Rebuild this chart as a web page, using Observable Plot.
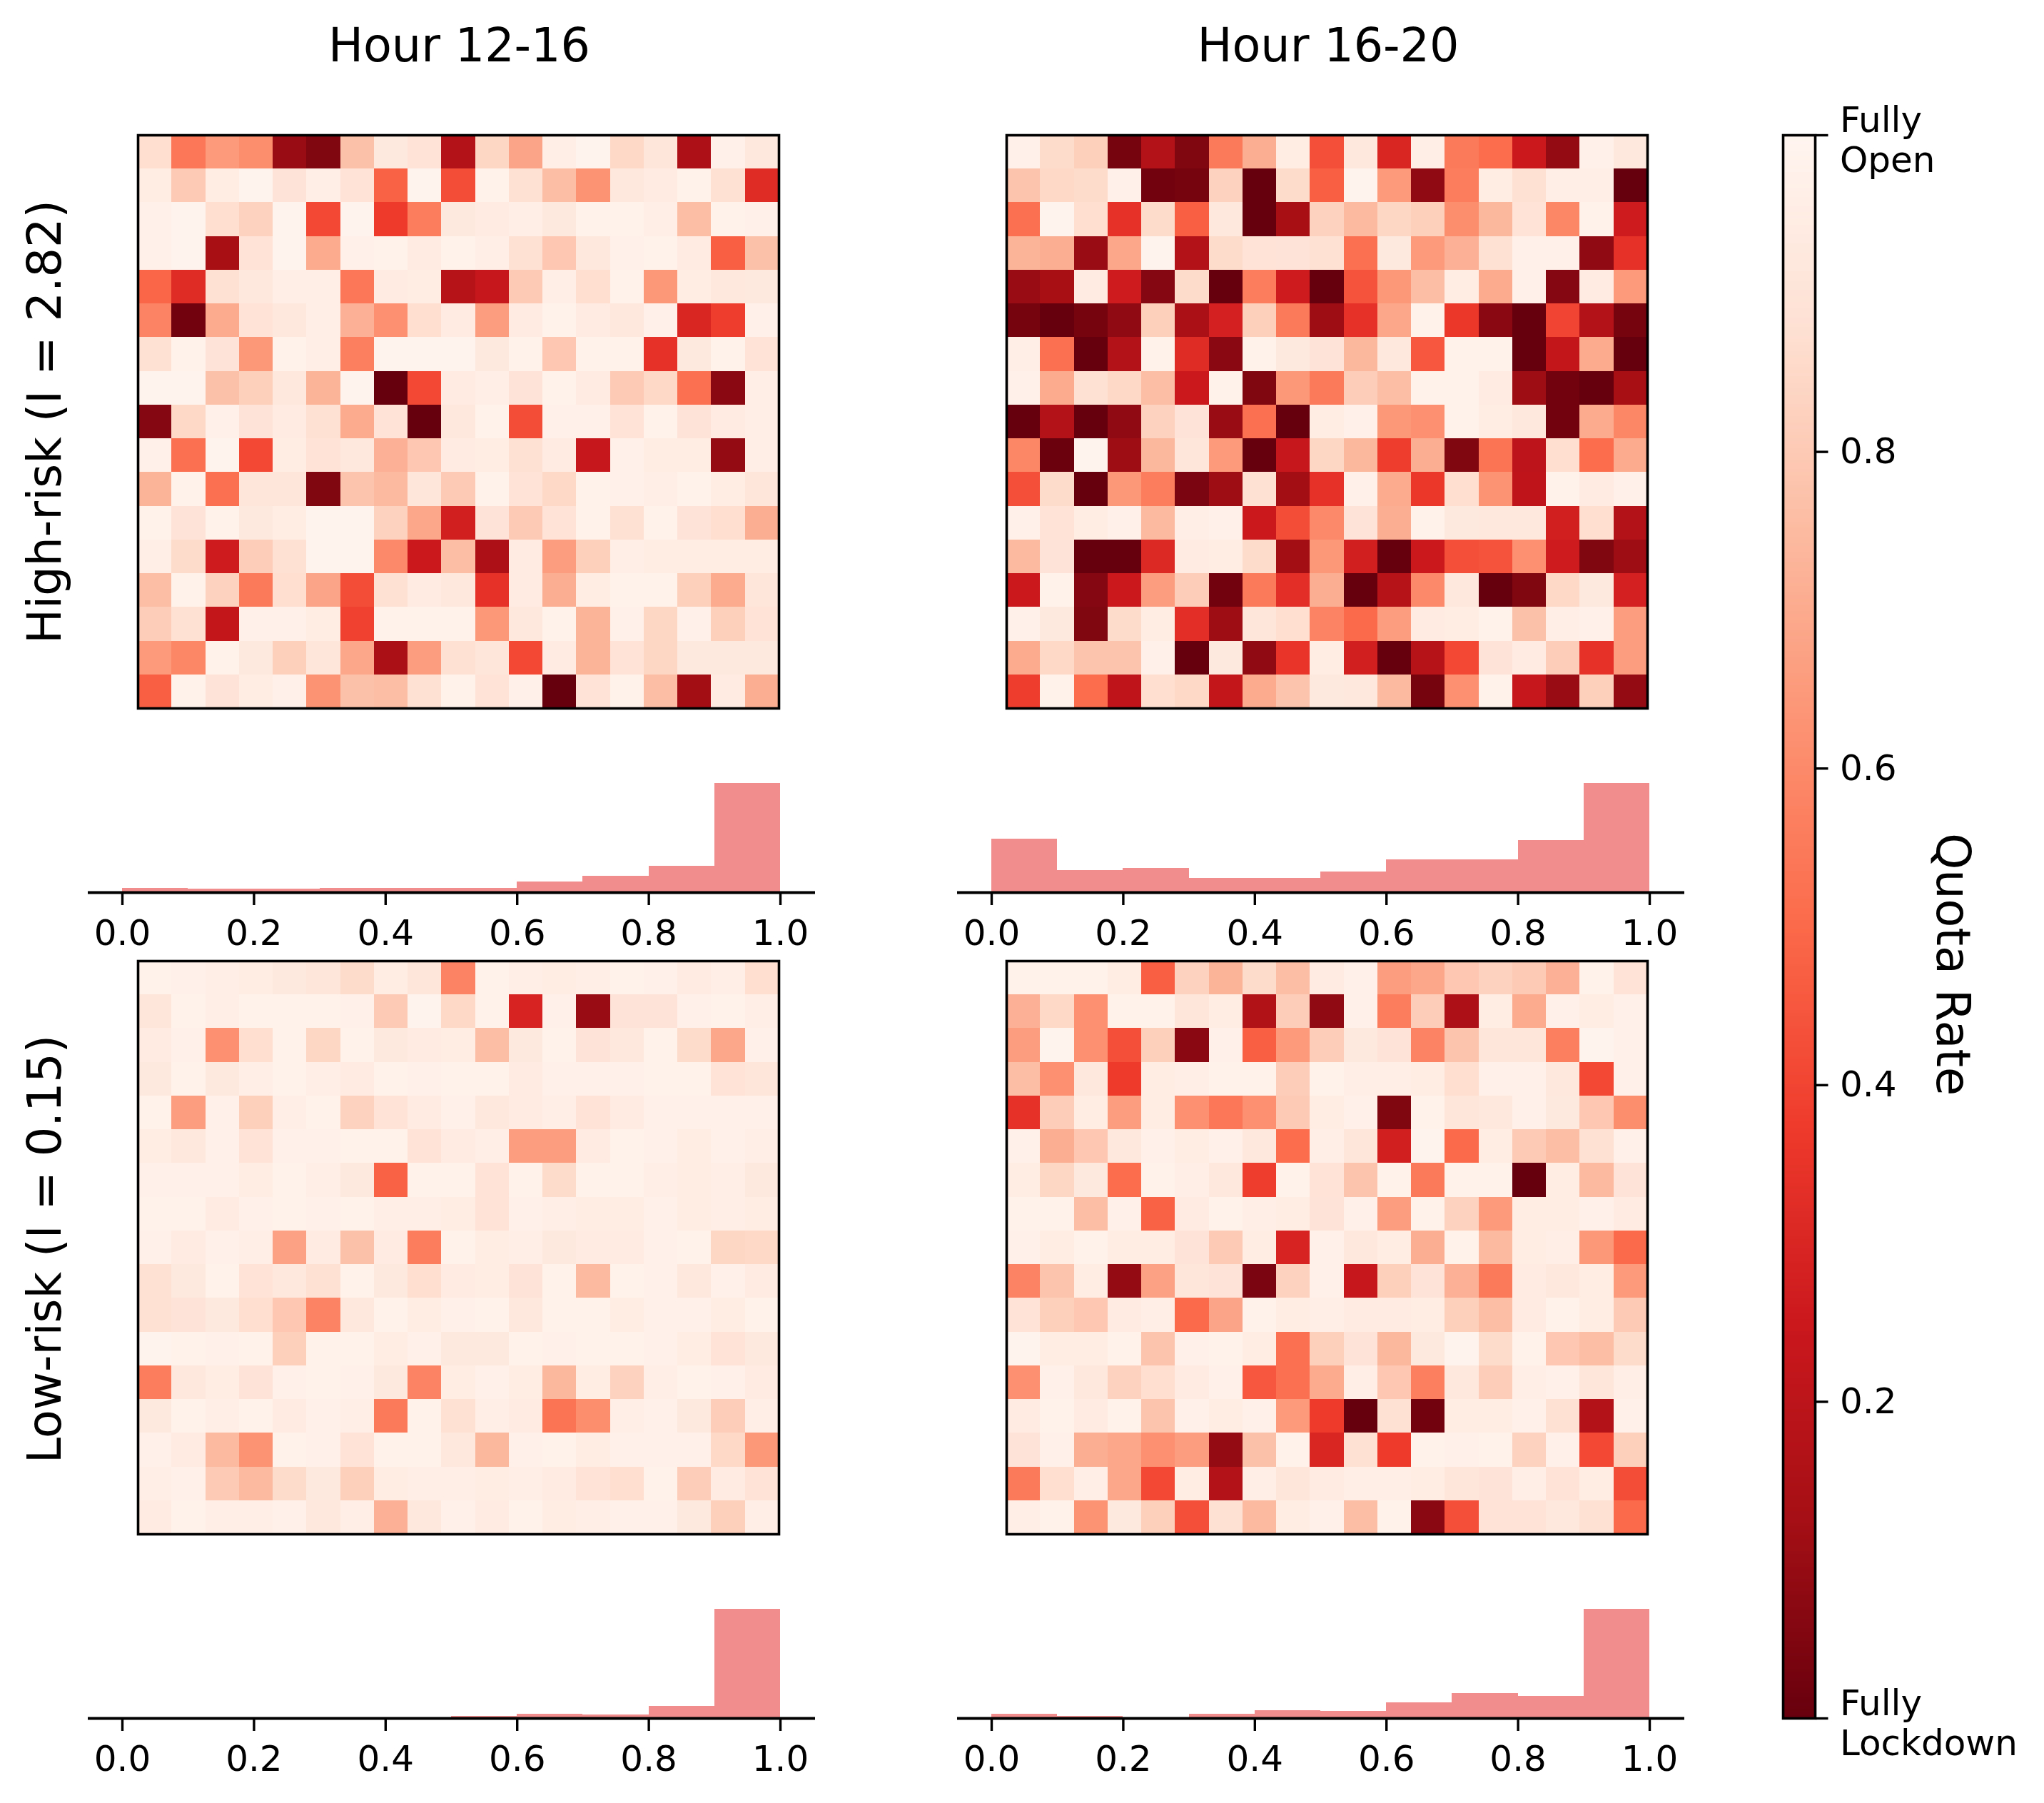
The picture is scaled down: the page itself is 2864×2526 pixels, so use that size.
<!DOCTYPE html>
<html><head><meta charset="utf-8">
<script src="https://cdn.jsdelivr.net/npm/d3@7"></script>
<script src="https://cdn.jsdelivr.net/npm/@observablehq/plot@0.6"></script>
<style>
html,body{margin:0;padding:0;background:#fff}
#page{position:relative;width:2864px;height:2526px;overflow:hidden;background:#fff;font-family:"DejaVu Sans",sans-serif;color:#000}
#page svg{position:absolute;background:transparent;overflow:visible;font-family:"DejaVu Sans",sans-serif}
.lab{position:absolute;line-height:1;white-space:pre;transform-origin:center}
</style></head><body><div id="page"></div>
<script>
// Quota rate per cell (17 rows x 19 columns)
const highRiskHour12 = [
[.87,.54,.65,.61,.10,.05,.77,.93,.89,.17,.84,.68,.96,.99,.85,.91,.15,.97,.92],
[.95,.80,.95,.99,.90,.96,.89,.48,.99,.42,.98,.88,.76,.63,.92,.94,.98,.88,.32],
[.97,.99,.87,.83,.99,.41,.99,.37,.56,.93,.94,.96,.93,.98,.98,.96,.76,.98,.97],
[.97,.99,.13,.89,.99,.70,.97,.98,.94,.98,.96,.88,.79,.92,.97,.98,.94,.47,.77],
[.49,.32,.88,.92,.96,.96,.54,.94,.95,.18,.23,.80,.96,.87,.98,.64,.95,.92,.93],
[.58,.02,.70,.89,.92,.96,.72,.62,.87,.94,.66,.94,.98,.94,.92,.97,.30,.38,.97],
[.88,.98,.90,.64,.98,.96,.57,.99,.99,.99,.93,.98,.79,.98,.98,.34,.93,.98,.89],
[.99,.99,.77,.82,.92,.73,.99,.00,.41,.94,.96,.90,.98,.94,.80,.85,.52,.07,.96],
[.06,.85,.97,.90,.94,.88,.70,.89,.00,.92,.98,.42,.97,.97,.89,.98,.90,.94,.96],
[.97,.52,.99,.41,.95,.89,.92,.72,.79,.94,.95,.88,.94,.23,.97,.95,.95,.09,.96],
[.73,.98,.52,.91,.91,.05,.78,.75,.91,.80,.98,.89,.85,.98,.97,.96,.98,.95,.91],
[.98,.90,.98,.93,.95,.99,.99,.83,.69,.27,.90,.80,.89,.98,.88,.98,.90,.87,.71],
[.96,.86,.26,.81,.88,.99,.99,.60,.25,.76,.15,.94,.66,.82,.96,.95,.95,.95,.95],
[.76,.98,.83,.55,.87,.68,.42,.88,.94,.92,.34,.94,.71,.95,.98,.98,.82,.70,.91],
[.81,.88,.22,.97,.97,.95,.39,.98,.98,.98,.64,.92,.98,.73,.97,.84,.97,.82,.89],
[.65,.59,.98,.93,.82,.91,.69,.14,.66,.88,.91,.41,.94,.73,.89,.84,.93,.93,.93],
[.47,.98,.90,.95,.97,.63,.77,.76,.88,.98,.89,.97,.00,.89,.98,.76,.12,.94,.71]];
const highRiskHour16 = [
[.97,.86,.82,.03,.17,.05,.55,.71,.95,.43,.92,.30,.96,.55,.51,.25,.09,.97,.92],
[.78,.85,.86,.97,.02,.03,.83,.00,.86,.47,.99,.65,.08,.56,.95,.88,.96,.96,.00],
[.52,.99,.87,.34,.86,.47,.92,.00,.13,.83,.75,.84,.82,.61,.74,.89,.59,.98,.26],
[.73,.71,.10,.69,.99,.17,.86,.89,.90,.88,.52,.93,.65,.72,.88,.97,.97,.08,.34],
[.10,.13,.94,.26,.06,.86,.00,.56,.26,.00,.44,.64,.76,.95,.70,.97,.06,.94,.65],
[.03,.00,.03,.08,.82,.14,.28,.82,.55,.11,.34,.69,.98,.36,.07,.00,.40,.17,.03],
[.96,.52,.00,.17,.98,.32,.07,.98,.93,.90,.74,.92,.45,.98,.98,.00,.22,.70,.00],
[.97,.70,.88,.85,.76,.25,.98,.05,.64,.55,.81,.76,.98,.98,.94,.11,.02,.00,.13],
[.00,.17,.00,.08,.83,.90,.10,.52,.00,.95,.97,.64,.62,.98,.95,.92,.02,.70,.59],
[.59,.01,.99,.11,.74,.91,.65,.00,.23,.84,.74,.38,.71,.05,.53,.20,.87,.51,.70],
[.43,.86,.00,.64,.56,.04,.11,.88,.12,.34,.97,.70,.36,.87,.63,.21,.98,.94,.97],
[.97,.89,.95,.97,.75,.96,.97,.25,.42,.60,.90,.71,.98,.93,.92,.92,.27,.87,.17],
[.75,.90,.00,.00,.31,.94,.95,.86,.12,.64,.27,.00,.25,.43,.44,.62,.26,.05,.11],
[.25,.98,.06,.25,.66,.81,.02,.55,.33,.71,.00,.18,.60,.92,.00,.05,.85,.93,.28],
[.97,.93,.05,.86,.95,.33,.11,.91,.87,.58,.50,.66,.94,.95,.98,.77,.96,.97,.66],
[.70,.85,.78,.78,.97,.00,.93,.08,.35,.95,.27,.00,.18,.41,.90,.94,.81,.34,.66],
[.38,.98,.51,.21,.87,.85,.22,.70,.78,.93,.92,.75,.03,.62,.98,.23,.10,.82,.09]];
const lowRiskHour12 = [
[.98,.97,.96,.95,.93,.91,.86,.95,.91,.58,.98,.96,.95,.96,.98,.97,.94,.96,.87],
[.91,.98,.96,.98,.98,.98,.97,.80,.99,.85,.98,.29,.97,.10,.90,.90,.97,.98,.96],
[.94,.97,.62,.87,.98,.84,.98,.93,.94,.95,.76,.93,.98,.90,.92,.98,.86,.69,.97],
[.93,.98,.93,.96,.98,.96,.94,.98,.97,.98,.98,.94,.97,.97,.97,.98,.98,.89,.91],
[.98,.66,.97,.82,.96,.98,.83,.89,.94,.97,.92,.94,.96,.89,.94,.97,.97,.97,.97],
[.95,.92,.97,.89,.97,.97,.98,.98,.89,.94,.96,.66,.66,.94,.98,.97,.95,.97,.96],
[.97,.97,.97,.95,.98,.96,.93,.48,.98,.98,.89,.98,.86,.98,.98,.96,.95,.96,.93],
[.98,.98,.94,.97,.98,.97,.98,.96,.96,.95,.89,.97,.96,.95,.95,.97,.95,.96,.95],
[.97,.94,.97,.96,.67,.94,.77,.94,.56,.98,.95,.96,.93,.94,.94,.97,.98,.84,.85],
[.88,.93,.98,.89,.92,.88,.98,.93,.87,.94,.95,.90,.98,.75,.98,.97,.92,.97,.94],
[.88,.90,.93,.87,.79,.58,.92,.98,.95,.97,.98,.92,.98,.98,.95,.97,.97,.95,.98],
[.99,.98,.97,.98,.82,.98,.98,.95,.97,.93,.93,.98,.97,.98,.98,.97,.95,.89,.93],
[.56,.92,.95,.90,.97,.98,.97,.93,.58,.95,.97,.95,.74,.95,.83,.96,.98,.97,.94],
[.93,.98,.96,.98,.94,.97,.96,.55,.98,.88,.96,.94,.53,.61,.96,.97,.93,.81,.96],
[.97,.94,.75,.63,.98,.97,.89,.98,.98,.92,.74,.97,.98,.95,.97,.97,.97,.85,.64],
[.96,.97,.80,.75,.86,.93,.82,.95,.96,.96,.95,.96,.94,.89,.87,.98,.81,.94,.89],
[.94,.98,.96,.96,.97,.92,.96,.72,.92,.97,.94,.98,.95,.96,.97,.97,.93,.82,.96]];
const lowRiskHour16 = [
[.98,.98,.98,.95,.47,.83,.73,.86,.76,.94,.97,.66,.69,.79,.83,.80,.72,.98,.89],
[.72,.85,.62,.98,.98,.91,.95,.16,.81,.08,.97,.56,.81,.15,.95,.70,.97,.95,.97],
[.66,.99,.62,.43,.82,.07,.97,.47,.65,.81,.93,.90,.58,.78,.91,.91,.57,.99,.97],
[.76,.62,.92,.37,.95,.96,.98,.98,.81,.98,.96,.96,.95,.87,.97,.97,.92,.41,.97],
[.34,.81,.95,.66,.95,.62,.54,.62,.80,.95,.97,.05,.98,.91,.92,.97,.93,.79,.61],
[.97,.71,.79,.92,.97,.95,.97,.92,.51,.96,.91,.27,.99,.50,.95,.80,.76,.88,.97],
[.95,.84,.93,.51,.98,.96,.92,.38,.98,.89,.78,.98,.55,.98,.98,.00,.95,.75,.90],
[.98,.98,.76,.97,.48,.94,.98,.96,.95,.90,.97,.66,.98,.83,.65,.95,.95,.97,.94],
[.97,.95,.98,.95,.95,.90,.80,.95,.29,.97,.92,.95,.71,.98,.75,.95,.96,.64,.50],
[.58,.78,.95,.09,.67,.91,.90,.04,.83,.97,.23,.82,.90,.72,.55,.94,.92,.95,.65],
[.89,.82,.79,.94,.96,.50,.68,.98,.95,.96,.94,.94,.95,.82,.76,.94,.98,.95,.80],
[.99,.95,.95,.98,.78,.97,.98,.95,.52,.82,.90,.74,.93,.99,.86,.98,.79,.76,.86],
[.62,.97,.92,.83,.87,.94,.97,.45,.52,.70,.96,.79,.57,.92,.81,.96,.97,.91,.96],
[.94,.98,.94,.98,.78,.97,.95,.97,.65,.37,.00,.88,.02,.95,.95,.97,.88,.17,.97],
[.90,.97,.71,.69,.62,.66,.09,.77,.98,.30,.88,.37,.98,.97,.98,.83,.97,.41,.82],
[.55,.87,.96,.69,.41,.95,.17,.96,.91,.94,.96,.96,.95,.91,.90,.96,.89,.95,.42],
[.96,.98,.63,.93,.82,.43,.88,.75,.95,.97,.76,.98,.07,.43,.89,.89,.92,.88,.50]];

// Histogram bar counts per 0.1-wide bin
const binStarts = [0,.1,.2,.3,.4,.5,.6,.7,.8,.9];
const histHigh12 = [8,6,6,8,8,8,19,29,47,193];
const histHigh16 = [46,19,21,12,12,18,28,28,45,94];
const histLow12  = [0,0,0,0,0,5,11,9,30,268];
const histLow16  = [7,3,0,7,13,12,26,41,36,178];

const histTicks = [0,.2,.4,.6,.8,1];
const barColor = "#f18d8d";
const colorbarTicks = [0,.2,.4,.6,.8,1];
const colorbarEnds = [{v:1,t:"Fully\nOpen"},{v:0,t:"Fully\nLockdown"}];
const redsStops = ["#67000d","#a50f15","#cb181d","#ef3b2c","#fb6a4a","#fc9272","#fcbba1","#fee0d2","#fff5f0"];
const colorOpt = {type:"linear",domain:[0,1],interpolate:d3.piecewise(d3.interpolateRgb,redsStops)};

const page = document.getElementById("page");
const place = (svg,left,top)=>{svg.style.left=left+"px";svg.style.top=top+"px";page.appendChild(svg);};
const FONT = 50, M = 12;

function heatmap(rows,left,top){
  const cells = rows.flatMap((r,i)=>r.map((v,j)=>({i,j,v})));
  const w=898,h=803;
  const svg = Plot.plot({width:w+2*M,height:h+2*M,marginLeft:M,marginRight:M,marginTop:M,marginBottom:M,
    x:{type:"band",domain:d3.range(19),padding:0,round:false,axis:null},
    y:{type:"band",domain:d3.range(17),padding:0,round:false,axis:null},
    color:colorOpt,
    marks:[
      Plot.cell(cells,{x:"j",y:"i",fill:"v",shapeRendering:"crispEdges"}),
      Plot.frame({stroke:"#000",strokeWidth:3.6})
    ]});
  place(svg,left-M,top-M);
}
function hist(counts,left,baseline){
  const bars = counts.map((c,k)=>({x1:binStarts[k],x2:binStarts[k]+.1,c}));
  const ph=153,mt=10,mb=100;
  const svg = Plot.plot({width:1019,height:ph+mt+mb,marginLeft:0,marginRight:0,marginTop:mt,marginBottom:mb,
    x:{domain:[-.05206,1.0531],axis:null},
    y:{domain:[0,d3.max(counts)],axis:null},
    marks:[
      Plot.rectY(bars,{x1:"x1",x2:"x2",y:"c",fill:barColor,shapeRendering:"crispEdges"}),
      Plot.ruleY([0],{stroke:"#000",strokeWidth:4}),
      Plot.axisX({ticks:histTicks,tickFormat:d3.format(".1f"),tickSize:18,tickPadding:19.5,strokeWidth:3.4,fontSize:FONT,label:null,stroke:"#000",fill:"#000"})
    ]});
  place(svg,left,baseline-ph-mt);
}
heatmap(highRiskHour12,193,189);
heatmap(highRiskHour16,1410,189);
heatmap(lowRiskHour12,193,1346);
heatmap(lowRiskHour16,1410,1346);
hist(histHigh12,123,1250);
hist(histHigh16,1341,1250);
hist(histLow12,123,2407);
hist(histLow16,1341,2407);

// colour bar
{
  const L=2498,T=189,W=45,H=2218,mr=350;
  const ramp = d3.range(512).map(k=>({y1:k/512,y2:(k+1)/512+.0005,v:(k+.5)/512}));
  const svg = Plot.plot({width:W+M+mr,height:H+2*M,marginLeft:M,marginRight:mr,marginTop:M,marginBottom:M,
    y:{domain:[0,1],axis:null},color:colorOpt,
    marks:[
      Plot.rect(ramp,{y1:"y1",y2:"y2",fill:"v",shapeRendering:"crispEdges"}),
      Plot.frame({stroke:"#000",strokeWidth:3.6}),
      Plot.axisY({anchor:"right",ticks:colorbarTicks,tickFormat:d=>(d===0||d===1)?"":d3.format(".1f")(d),tickSize:17.5,tickPadding:17,strokeWidth:3.4,fontSize:FONT,label:null}),
      Plot.text(colorbarEnds,{y:"v",text:"t",frameAnchor:"right",dx:34.5,dy:5.5,textAnchor:"start",lineAnchor:"middle",lineHeight:1.114,fontSize:FONT,fill:"#000"})
    ]});
  place(svg,L-M,T-M);
}

// titles and side labels
function label(text,cx,cy,size,rot){
  const d=document.createElement("div");d.className="lab";d.textContent=text;
  d.style.left=cx+"px";d.style.top=cy+"px";d.style.fontSize=size+"px";
  d.style.transform=`translate(-50%,-50%) rotate(${rot}deg)`;
  page.appendChild(d);
}
const columnTitles=["Hour 12-16","Hour 16-20"];
const rowTitles=["High-risk (I = 2.82)","Low-risk (I = 0.15)"];
const TF = 65.2;
label(columnTitles[0],643.5,64,TF,0);
label(columnTitles[1],1861,64,TF,0);
label(rowTitles[0],62.5,591,TF,-90);
label(rowTitles[1],62.5,1750,TF,-90);
label("Quota Rate",2736,1351,TF,90);
</script></body></html>
